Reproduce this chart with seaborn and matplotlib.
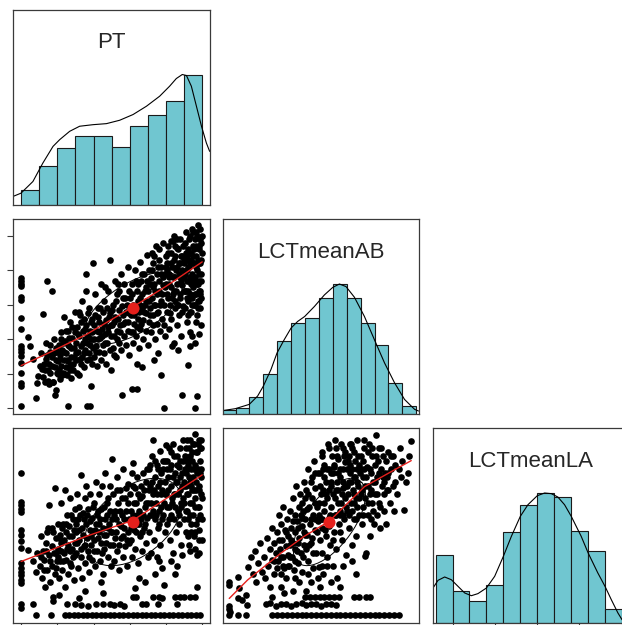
import numpy as np
import pandas as pd
import matplotlib
matplotlib.use("Agg")
import matplotlib.pyplot as plt
import seaborn as sns

sns.set_style("white")
plt.rcParams['font.family'] = ['Liberation Sans', 'DejaVu Sans']

# ---------------- data ----------------
var_names = ["PT", "LCTmeanAB", "LCTmeanLA"]

# histograms (bar heights scaled so that the tallest bar = 1, as in psych::pairs.panels)
pt_breaks = [0, 1, 2, 3, 4, 5, 6, 7, 8, 9, 10]
pt_heights = [0.111, 0.296, 0.434, 0.527, 0.524, 0.440, 0.604, 0.689, 0.800, 1.0]
ab_breaks = [0.4, 0.6, 0.8, 1.0, 1.2, 1.4, 1.6, 1.8, 2.0, 2.2, 2.4, 2.6, 2.8, 3.0, 3.2]
ab_heights = [0.028, 0.043, 0.130, 0.311, 0.559, 0.699, 0.737, 0.895, 1.0, 0.890, 0.699, 0.531, 0.240, 0.061]
la_breaks = [0.8, 1.0, 1.2, 1.4, 1.6, 1.8, 2.0, 2.2, 2.4, 2.6, 2.8, 3.0]
la_heights = [0.526, 0.249, 0.167, 0.292, 0.697, 0.908, 1.0, 0.967, 0.708, 0.551, 0.108]

# density curves (scaled to max 1)
pt_dens_x = [-0.45, -0.01, 0.65, 1.2, 1.76, 2.13, 2.68, 3.23, 3.97, 4.71, 5.44, 6.18, 6.92, 7.65, 8.2, 8.57, 8.9, 9.13, 9.4, 9.68, 9.96, 10.23, 10.41]
pt_dens_y = [0.062, 0.087, 0.177, 0.319, 0.447, 0.499, 0.563, 0.602, 0.614, 0.622, 0.648, 0.692, 0.756, 0.833, 0.910, 0.969, 1.0, 0.992, 0.91, 0.756, 0.602, 0.473, 0.409]
ab_dens_x = [0.414, 0.597, 0.798, 0.918, 1.0, 1.11, 1.197, 1.30, 1.399, 1.494, 1.595, 1.735, 1.879, 1.999, 2.095, 2.19, 2.311, 2.455, 2.599, 2.744, 2.888, 3.032, 3.176, 3.233]
ab_dens_y = [0.026, 0.041, 0.074, 0.138, 0.214, 0.342, 0.469, 0.571, 0.661, 0.712, 0.75, 0.827, 0.916, 0.974, 1.0, 0.980, 0.898, 0.75, 0.571, 0.393, 0.240, 0.112, 0.036, 0.023]
la_dens_x = [0.768, 0.827, 0.906, 0.985, 1.064, 1.143, 1.222, 1.30, 1.40, 1.498, 1.601, 1.696, 1.802, 1.892, 2.002, 2.089, 2.168, 2.246, 2.325, 2.404, 2.522, 2.605, 2.719, 2.804, 2.879, 2.957, 3.005, 3.09]
la_dens_y = [0.269, 0.328, 0.354, 0.333, 0.282, 0.231, 0.210, 0.226, 0.269, 0.359, 0.513, 0.667, 0.821, 0.910, 0.979, 1.0, 0.995, 0.969, 0.910, 0.821, 0.667, 0.538, 0.385, 0.282, 0.179, 0.077, 0.026, -0.02]

# scatter: PT (x) vs LCTmeanAB (y)
pts_pt_ab = [
    (0, 2.39), (0, 2.35), (0, 2.30), (0, 2.27), (0, 2.11), (0, 2.07), (0, 1.81), (0, 1.65), (0, 1.41), (0, 1.36),
    (0, 1.31), (0, 1.26), (0, 1.16), (0, 1.02), (0, 0.87), (0, 0.82), (0, 0.53),
    (0.38, 1.54), (0.5, 1.41), (0.65, 1.22), (0.8, 0.65), (0.9, 0.87), (0.95, 0.97),
    (1.17, 1.07), (1.3, 0.89), (1.55, 0.86), (1.77, 0.89), (1.85, 0.70),
    (1.05, 1.12), (1.12, 1.30), (1.18, 1.87), (1.22, 0.95), (1.3, 1.05), (1.35, 1.22), (1.4, 1.45), (1.45, 2.35),
    (1.5, 0.9), (1.55, 1.15), (1.6, 1.32), (1.62, 1.02), (1.7, 2.2), (1.72, 1.25), (1.78, 0.89), (1.8, 1.5),
    (1.88, 1.1), (1.95, 1.38), (1.92, 0.77),
    (1.25, 1.15), (1.42, 1.28), (1.58, 1.42), (1.68, 1.12), (1.82, 1.3), (1.9, 1.2), (1.48, 1.05), (1.98, 1.02),
    (2.02, 1.0), (2.05, 1.18), (2.08, 1.42), (2.1, 1.05), (2.12, 1.28), (2.15, 0.92), (2.2, 1.12), (2.22, 1.6),
    (2.28, 1.35), (2.3, 1.02), (2.35, 1.2), (2.38, 1.82), (2.42, 1.48), (2.45, 1.1), (2.5, 1.3), (2.55, 0.98),
    (2.58, 1.62), (2.6, 1.18), (2.65, 1.4), (2.7, 1.75), (2.72, 1.05), (2.78, 1.25), (2.8, 1.52), (2.85, 1.15),
    (2.9, 1.38), (2.95, 1.9), (2.98, 1.6), (2.77, 0.94), (2.59, 0.53),
    (2.04, 1.32), (2.18, 1.5), (2.25, 0.98), (2.32, 1.45), (2.4, 1.0), (2.48, 1.62), (2.52, 1.2), (2.62, 1.52),
    (2.68, 1.12), (2.75, 1.38), (2.82, 1.68), (2.88, 1.05), (2.93, 1.25), (2.16, 1.22), (2.36, 1.32), (2.56, 1.42),
    (3.02, 1.2), (3.05, 1.45), (3.08, 1.68), (3.1, 1.02), (3.15, 1.32), (3.18, 1.9), (3.2, 0.98), (3.22, 1.55),
    (3.28, 1.15), (3.3, 1.4), (3.35, 2.05), (3.38, 1.25), (3.4, 1.62), (3.45, 1.8), (3.48, 1.1), (3.5, 1.5),
    (3.55, 1.35), (3.58, 2.2), (3.6, 2.45), (3.6, 1.7), (3.64, 0.53), (3.65, 1.2), (3.7, 1.55), (3.72, 1.95),
    (3.75, 1.3), (3.79, 0.53), (3.8, 1.42), (3.85, 1.75), (3.88, 0.83), (3.9, 1.15), (3.92, 1.6), (3.96, 2.6),
    (3.98, 1.38),
    (3.04, 1.3), (3.12, 1.58), (3.25, 1.22), (3.32, 1.75), (3.42, 1.45), (3.52, 1.65), (3.62, 1.45), (3.68, 1.88),
    (3.78, 1.62), (3.82, 1.22), (3.94, 1.8), (3.25, 1.85), (3.45, 1.3), (3.88, 1.5),
    (4.02, 1.5), (4.05, 1.25), (4.08, 1.85), (4.1, 2.15), (4.15, 1.4), (4.18, 1.62), (4.2, 1.12), (4.25, 1.95),
    (4.28, 1.32), (4.3, 1.75), (4.35, 1.52), (4.4, 2.3), (4.42, 1.2), (4.45, 1.65), (4.5, 1.42), (4.52, 1.9),
    (4.58, 1.3), (4.6, 2.05), (4.62, 1.58), (4.68, 1.78), (4.7, 1.15), (4.75, 1.45), (4.8, 2.2), (4.82, 1.68),
    (4.88, 1.35), (4.9, 2.65), (4.92, 1.88), (4.96, 1.55), (4.98, 1.05),
    (4.04, 1.7), (4.12, 1.32), (4.22, 1.82), (4.32, 1.6), (4.38, 1.95), (4.48, 1.55), (4.55, 1.72), (4.65, 1.45),
    (4.72, 1.95), (4.78, 1.6), (4.85, 1.82), (4.95, 1.7), (4.25, 1.5), (4.62, 2.25),
    (5.02, 1.7), (5.05, 1.38), (5.1, 2.0), (5.12, 1.55), (5.18, 2.35), (5.2, 1.82), (5.25, 1.25), (5.3, 1.62),
    (5.32, 2.15), (5.38, 1.45), (5.4, 1.92), (5.45, 1.7), (5.5, 2.45), (5.52, 1.35), (5.55, 0.69), (5.6, 1.85),
    (5.62, 2.1), (5.68, 1.55), (5.7, 2.3), (5.75, 1.75), (5.8, 1.42), (5.85, 2.0), (5.88, 1.62), (5.92, 2.55),
    (5.95, 1.88), (5.98, 1.28),
    (5.04, 1.92), (5.14, 1.75), (5.22, 2.05), (5.28, 1.5), (5.35, 1.8), (5.42, 2.2), (5.48, 1.6), (5.58, 1.98),
    (5.65, 1.72), (5.72, 2.1), (5.78, 1.9), (5.9, 1.75), (5.96, 2.2), (5.35, 2.3), (5.15, 1.28),
    (6.02, 2.1), (6.05, 1.6), (6.08, 1.85), (6.1, 0.78), (6.12, 2.3), (6.15, 1.45), (6.2, 2.0), (6.22, 1.72),
    (6.28, 2.5), (6.3, 1.9), (6.35, 1.55), (6.38, 2.2), (6.4, 0.78), (6.42, 1.15), (6.45, 1.8), (6.48, 2.05),
    (6.5, 1.38), (6.55, 2.62), (6.58, 1.65), (6.6, 2.35), (6.65, 1.95), (6.68, 2.15), (6.72, 1.5), (6.75, 1.78),
    (6.8, 2.45), (6.82, 2.0), (6.88, 1.62), (6.9, 2.25), (6.92, 1.88), (6.95, 2.72), (6.98, 1.42), (6.7, 1.1),
    (6.04, 1.95), (6.14, 2.15), (6.25, 1.85), (6.32, 2.35), (6.4, 1.68), (6.46, 2.3), (6.52, 1.9), (6.58, 2.1),
    (6.64, 1.72), (6.7, 2.45), (6.78, 1.9), (6.85, 2.2), (6.92, 2.05), (6.97, 2.35), (6.18, 1.6), (6.55, 2.0),
    (7.02, 2.2), (7.05, 1.75), (7.08, 2.5), (7.1, 1.95), (7.15, 2.38), (7.18, 1.6), (7.2, 2.75), (7.25, 2.1),
    (7.28, 1.85), (7.3, 2.6), (7.35, 2.3), (7.38, 1.5), (7.4, 2.0), (7.45, 2.85), (7.48, 1.72), (7.5, 2.45),
    (7.52, 2.15), (7.58, 1.9), (7.6, 2.65), (7.62, 2.35), (7.68, 1.62), (7.7, 0.98), (7.72, 2.05), (7.75, 2.55),
    (7.8, 1.8), (7.82, 2.28), (7.85, 2.9), (7.9, 0.5), (7.9, 2.0), (7.92, 2.45), (7.95, 1.55), (7.98, 2.7),
    (7.55, 1.3), (7.35, 1.2),
    (7.04, 2.05), (7.1, 2.3), (7.14, 1.85), (7.2, 2.5), (7.26, 2.25), (7.32, 2.0), (7.36, 2.7), (7.42, 2.2),
    (7.5, 1.88), (7.55, 2.55), (7.62, 2.2), (7.66, 2.0), (7.7, 2.45), (7.76, 2.15), (7.84, 2.4), (7.88, 1.7),
    (7.94, 2.25), (7.98, 2.55), (7.3, 1.7), (7.6, 2.8),
    (8.02, 2.3), (8.05, 1.9), (8.08, 2.6), (8.1, 2.85), (8.12, 2.1), (8.15, 1.65), (8.18, 2.45), (8.2, 2.0),
    (8.25, 2.75), (8.28, 2.25), (8.3, 1.8), (8.32, 2.55), (8.38, 2.92), (8.4, 2.15), (8.42, 1.45), (8.45, 2.4),
    (8.48, 1.95), (8.5, 2.7), (8.52, 2.05), (8.55, 2.5), (8.58, 1.7), (8.6, 2.82), (8.62, 2.3), (8.68, 2.0),
    (8.7, 2.6), (8.72, 1.85), (8.75, 2.95), (8.78, 2.4), (8.8, 2.15), (8.82, 1.55), (8.85, 2.7), (8.88, 2.28),
    (8.9, 0.69), (8.9, 2.5), (8.92, 1.98), (8.95, 2.85), (8.98, 2.2), (8.35, 1.4), (8.65, 1.35), (8.45, 3.0),
    (8.04, 2.5), (8.08, 2.15), (8.12, 2.75), (8.18, 2.3), (8.22, 1.88), (8.26, 2.6), (8.32, 2.1), (8.36, 2.4),
    (8.42, 2.65), (8.46, 2.2), (8.52, 2.85), (8.56, 2.2), (8.6, 2.55), (8.64, 2.0), (8.68, 2.8), (8.72, 2.45),
    (8.76, 2.1), (8.8, 2.6), (8.84, 2.35), (8.86, 1.9), (8.9, 2.7), (8.94, 2.4), (8.98, 2.65), (8.28, 2.92),
    (8.58, 2.95), (8.14, 2.4),
    (9.02, 2.4), (9.05, 2.9), (9.05, 1.95), (9.08, 2.65), (9.1, 2.2), (9.12, 3.05), (9.15, 1.75), (9.18, 2.5),
    (9.2, 1.13), (9.2, 2.8), (9.22, 2.05), (9.25, 2.35), (9.28, 2.95), (9.3, 1.6), (9.32, 2.6), (9.35, 2.15),
    (9.38, 2.75), (9.4, 1.9), (9.42, 2.45), (9.45, 3.1), (9.48, 2.25), (9.5, 2.85), (9.52, 2.0), (9.55, 2.6),
    (9.58, 1.45), (9.6, 0.5), (9.6, 2.4), (9.62, 2.95), (9.65, 2.15), (9.68, 2.7), (9.7, 0.68), (9.7, 1.85),
    (9.72, 2.5), (9.75, 3.15), (9.78, 2.3), (9.8, 1.57), (9.8, 2.8), (9.82, 2.05), (9.85, 2.6), (9.88, 2.95),
    (9.9, 2.2), (9.92, 1.7), (9.95, 2.45), (9.98, 3.0), (9.98, 2.75), (9.88, 1.95), (9.45, 1.55), (9.35, 1.4),
    (9.65, 3.05), (9.15, 2.7), (9.55, 2.3), (9.25, 2.55), (9.75, 2.05), (9.85, 2.35), (9.95, 2.65),
    (9.02, 2.6), (9.04, 2.2), (9.06, 2.45), (9.1, 2.75), (9.14, 2.35), (9.16, 2.1), (9.2, 2.55), (9.24, 2.2),
    (9.26, 2.75), (9.3, 2.4), (9.34, 1.9), (9.36, 2.65), (9.4, 2.3), (9.44, 2.6), (9.46, 2.0), (9.5, 2.7),
    (9.52, 2.35), (9.56, 2.8), (9.6, 2.15), (9.64, 2.55), (9.66, 2.85), (9.7, 2.3), (9.74, 2.65), (9.76, 1.95),
    (9.8, 2.45), (9.84, 2.85), (9.86, 2.15), (9.9, 2.6), (9.92, 2.35), (9.96, 2.9), (9.96, 2.1), (9.9, 3.1),
    (9.7, 3.0), (9.5, 3.05), (9.3, 3.0), (9.58, 2.0), (9.8, 2.2), (9.42, 2.1), (9.64, 1.75), (9.2, 1.85),
]

# scatter: PT (x) vs LCTmeanLA (y)
pts_pt_la = [
    (0, 2.55), (0, 2.21), (0, 2.17), (0, 2.13), (0, 2.09), (0, 1.88), (0, 1.82), (0, 1.74), (0, 1.66), (0, 1.48),
    (0, 1.42), (0, 1.38), (0, 1.34), (0, 1.28), (0, 1.24), (0, 0.99), (0, 0.95),
    (0.4, 1.64), (0.65, 1.5), (0.8, 1.38), (0.9, 1.6), (0.65, 0.99), (0.8, 0.86), (1.65, 0.86),
    (1.05, 1.45), (1.1, 1.8), (1.15, 1.3), (1.2, 1.62), (1.28, 1.52), (1.32, 1.2), (1.38, 1.72), (1.45, 1.4),
    (1.5, 1.9), (1.55, 2.17), (1.55, 1.58), (1.62, 1.25), (1.68, 1.68), (1.72, 1.45), (1.78, 1.85), (1.85, 2.37),
    (1.85, 1.35), (1.9, 1.6), (1.95, 1.78), (1.75, 1.08), (1.98, 1.5),
    (1.1, 1.55), (1.25, 1.4), (1.35, 1.62), (1.42, 1.85), (1.6, 1.5), (1.7, 1.9), (1.8, 1.6), (1.92, 1.42),
    (2.02, 1.95), (2.05, 1.65), (2.08, 1.3), (2.12, 1.82), (2.15, 1.5), (2.2, 2.2), (2.22, 1.72), (2.28, 1.4),
    (2.3, 1.95), (2.35, 1.6), (2.4, 2.35), (2.42, 1.2), (2.45, 1.85), (2.5, 1.52), (2.55, 2.05), (2.58, 1.7),
    (2.6, 1.35), (2.65, 1.92), (2.7, 1.62), (2.72, 2.25), (2.78, 1.45), (2.8, 1.8), (2.85, 2.0), (2.88, 1.55),
    (2.92, 1.28), (2.95, 1.72), (2.98, 2.12),
    (2.04, 1.55), (2.1, 1.78), (2.18, 1.62), (2.25, 1.9), (2.32, 1.5), (2.38, 1.75), (2.48, 1.95), (2.52, 1.65),
    (2.62, 1.8), (2.68, 1.48), (2.75, 2.05), (2.82, 1.65), (2.9, 1.88), (2.96, 1.58),
    (3.02, 1.85), (3.05, 1.6), (3.08, 2.3), (3.12, 1.42), (3.15, 2.0), (3.2, 1.75), (3.22, 2.15), (3.28, 1.55),
    (3.3, 2.53), (3.35, 1.9), (3.38, 1.3), (3.42, 2.08), (3.45, 1.68), (3.5, 2.25), (3.52, 1.48), (3.58, 1.95),
    (3.6, 2.4), (3.62, 1.78), (3.68, 1.62), (3.7, 2.12), (3.75, 1.38), (3.78, 1.88), (3.82, 2.3), (3.85, 1.7),
    (3.9, 2.02), (3.92, 1.52), (3.98, 1.85), (3.5, 1.15),
    (3.04, 1.95), (3.1, 1.72), (3.18, 1.88), (3.25, 2.05), (3.32, 1.65), (3.4, 1.82), (3.48, 2.0), (3.55, 1.7),
    (3.65, 2.05), (3.72, 1.55), (3.8, 1.98), (3.88, 1.8), (3.95, 2.15),
    (4.02, 2.2), (4.05, 1.75), (4.08, 1.45), (4.12, 2.45), (4.15, 1.95), (4.2, 1.62), (4.22, 2.1), (4.28, 1.85),
    (4.3, 2.3), (4.35, 1.5), (4.38, 2.0), (4.42, 1.72), (4.48, 2.4), (4.5, 1.9), (4.52, 1.35), (4.58, 2.15),
    (4.6, 1.65), (4.65, 2.55), (4.7, 1.82), (4.72, 2.05), (4.78, 1.55), (4.82, 2.25), (4.85, 1.95), (4.9, 1.7),
    (4.92, 2.4), (4.98, 1.45), (4.4, 1.25),
    (4.04, 1.62), (4.1, 1.88), (4.18, 2.05), (4.25, 1.78), (4.32, 1.95), (4.4, 2.12), (4.45, 1.6), (4.55, 1.82),
    (4.62, 2.0), (4.68, 1.72), (4.75, 2.2), (4.8, 1.9), (4.88, 2.1), (4.95, 1.85),
    (5.0, 2.72), (5.02, 2.0), (5.08, 1.7), (5.1, 2.3), (5.15, 1.5), (5.2, 2.1), (5.22, 1.85), (5.28, 2.5),
    (5.3, 1.62), (5.35, 2.2), (5.4, 1.95), (5.42, 1.4), (5.48, 2.35), (5.5, 1.78), (5.55, 2.05), (5.6, 1.55),
    (5.62, 2.6), (5.68, 1.9), (5.72, 2.25), (5.75, 1.68), (5.8, 2.1), (5.85, 1.45), (5.88, 2.42), (5.92, 1.85),
    (5.98, 2.0),
    (5.04, 1.85), (5.12, 2.05), (5.18, 1.78), (5.25, 2.0), (5.32, 2.35), (5.38, 1.7), (5.45, 2.1), (5.52, 1.92),
    (5.58, 2.25), (5.65, 1.8), (5.7, 2.0), (5.78, 2.38), (5.82, 1.75), (5.9, 2.2), (5.96, 1.72),
    (6.02, 2.3), (6.05, 1.75), (6.1, 2.55), (6.12, 1.55), (6.18, 2.05), (6.2, 2.67), (6.22, 1.88), (6.28, 2.38),
    (6.3, 1.65), (6.35, 2.2), (6.4, 1.95), (6.42, 2.5), (6.48, 1.48), (6.5, 2.1), (6.55, 1.8), (6.6, 2.4),
    (6.62, 2.0), (6.68, 1.62), (6.7, 2.28), (6.75, 2.55), (6.78, 1.9), (6.82, 2.15), (6.88, 1.72), (6.9, 2.45),
    (6.95, 2.02), (6.98, 1.55), (6.5, 1.3), (6.85, 1.25), (6.3, 1.18),
    (6.04, 2.1), (6.08, 1.9), (6.15, 2.4), (6.25, 2.2), (6.32, 1.85), (6.38, 2.05), (6.45, 2.3), (6.52, 1.95),
    (6.58, 2.25), (6.65, 1.85), (6.72, 2.05), (6.8, 2.35), (6.86, 1.95), (6.92, 2.2), (6.97, 2.6),
    (7.02, 2.2), (7.05, 2.6), (7.08, 1.85), (7.12, 2.4), (7.15, 1.6), (7.2, 2.05), (7.22, 2.75), (7.28, 2.3),
    (7.3, 2.95), (7.32, 1.75), (7.38, 2.5), (7.4, 2.0), (7.45, 2.2), (7.48, 1.55), (7.5, 2.65), (7.55, 1.9),
    (7.58, 2.4), (7.6, 2.1), (7.65, 2.82), (7.68, 1.7), (7.72, 2.3), (7.75, 2.55), (7.8, 1.42), (7.8, 2.0),
    (7.85, 2.7), (7.88, 2.2), (7.9, 1.22), (7.92, 1.85), (7.95, 2.45), (7.98, 2.88), (7.4, 1.35), (7.6, 1.5),
    (7.04, 2.35), (7.1, 2.05), (7.14, 2.65), (7.18, 2.2), (7.25, 2.45), (7.3, 2.1), (7.35, 2.35), (7.42, 2.7),
    (7.46, 2.05), (7.52, 2.3), (7.58, 2.6), (7.62, 1.95), (7.66, 2.45), (7.7, 2.15), (7.78, 2.35), (7.82, 2.6),
    (7.86, 2.05), (7.92, 2.3), (7.96, 2.7),
    (8.02, 2.3), (8.05, 2.7), (8.08, 1.95), (8.1, 2.5), (8.15, 2.15), (8.18, 2.85), (8.2, 1.75), (8.25, 2.4),
    (8.28, 2.05), (8.3, 2.65), (8.35, 2.25), (8.38, 1.6), (8.4, 2.9), (8.45, 2.0), (8.48, 2.55), (8.5, 2.3),
    (8.55, 1.85), (8.58, 2.75), (8.6, 1.45), (8.62, 2.45), (8.65, 2.1), (8.7, 2.62), (8.72, 1.95), (8.75, 2.85),
    (8.8, 2.35), (8.82, 2.15), (8.85, 1.7), (8.88, 2.55), (8.9, 1.58), (8.92, 2.95), (8.95, 2.25), (8.98, 2.0),
    (8.3, 1.5), (8.5, 1.35),
    (8.04, 2.15), (8.08, 2.6), (8.12, 2.35), (8.18, 2.0), (8.22, 2.6), (8.26, 2.8), (8.32, 2.2), (8.36, 2.5),
    (8.42, 2.3), (8.46, 2.75), (8.52, 2.15), (8.56, 2.45), (8.6, 2.65), (8.66, 2.3), (8.7, 2.05), (8.76, 2.5),
    (8.8, 2.7), (8.84, 2.2), (8.9, 2.4), (8.94, 2.7), (8.98, 2.45),
    (9.02, 2.4), (9.05, 2.75), (9.08, 2.1), (9.1, 2.55), (9.12, 1.85), (9.15, 2.95), (9.18, 2.3), (9.2, 2.0),
    (9.22, 2.65), (9.25, 2.85), (9.28, 1.7), (9.3, 2.45), (9.32, 2.2), (9.35, 2.95), (9.38, 1.95), (9.4, 2.6),
    (9.42, 2.35), (9.45, 2.8), (9.48, 2.05), (9.5, 2.5), (9.52, 1.8), (9.55, 2.9), (9.58, 2.25), (9.6, 3.02),
    (9.62, 2.65), (9.65, 1.95), (9.68, 2.45), (9.7, 1.58), (9.7, 1.2), (9.72, 2.8), (9.75, 2.15), (9.78, 2.6),
    (9.8, 1.88), (9.82, 2.95), (9.85, 2.35), (9.88, 2.7), (9.9, 2.05), (9.92, 2.5), (9.95, 2.85), (9.98, 2.25),
    (9.98, 1.75), (9.6, 1.65), (9.85, 1.6), (9.3, 1.62), (9.15, 2.7),
    (9.02, 2.2), (9.04, 2.6), (9.08, 2.85), (9.12, 2.4), (9.14, 2.1), (9.18, 2.6), (9.22, 2.3), (9.26, 2.5),
    (9.3, 2.75), (9.34, 2.05), (9.38, 2.4), (9.42, 2.7), (9.46, 2.2), (9.5, 2.9), (9.52, 2.35), (9.56, 2.6),
    (9.6, 2.15), (9.64, 2.8), (9.66, 2.35), (9.7, 2.55), (9.74, 2.0), (9.76, 2.9), (9.8, 2.4), (9.84, 2.15),
    (9.86, 2.55), (9.9, 2.85), (9.92, 2.3), (9.96, 2.6), (9.98, 2.0), (9.94, 2.95), (9.4, 1.85), (9.6, 1.85),
    (9.8, 1.75), (9.2, 1.8),
    (2.55, 0.99), (3.0, 1.0), (3.3, 0.98), (3.7, 0.97), (4.15, 0.99), (4.5, 1.0), (4.9, 0.99), (5.15, 0.98),
    (5.45, 0.99), (5.7, 0.97), (6.7, 0.99), (6.9, 1.0), (7.55, 0.99), (8.6, 0.99), (1.75, 1.03), (2.1, 1.1),
    (6.2, 1.08), (6.35, 1.08), (7.3, 1.08), (7.6, 1.08), (7.8, 1.07), (8.5, 1.08), (8.75, 1.08), (9.0, 1.08),
    (9.3, 1.08), (9.6, 1.08), (3.2, 1.07), (4.5, 1.13),
    (2.4, 0.86), (2.65, 0.86), (2.9, 0.86), (3.15, 0.86), (3.4, 0.86), (3.65, 0.86), (3.9, 0.86), (4.15, 0.86),
    (4.4, 0.86), (4.65, 0.86), (4.9, 0.86), (5.15, 0.86), (5.4, 0.86), (5.65, 0.86), (5.9, 0.86), (6.15, 0.86),
    (6.4, 0.86), (6.65, 0.86), (6.9, 0.86), (7.15, 0.86), (7.4, 0.86), (7.65, 0.86), (7.9, 0.86), (8.15, 0.86),
    (8.4, 0.86), (8.65, 0.86), (8.9, 0.86), (9.15, 0.86), (9.4, 0.86), (9.65, 0.86), (9.9, 0.86),
]

# scatter: LCTmeanAB (x) vs LCTmeanLA (y)
pts_ab_la = [
    (0.51, 1.26), (0.51, 1.22), (0.51, 0.94), (0.52, 0.9),
    (0.63, 1.32), (0.65, 1.18), (0.7, 1.04), (0.78, 1.44), (0.75, 1.1),
    (0.82, 1.55), (0.85, 1.35), (0.88, 1.62), (0.9, 1.25), (0.92, 1.48), (0.95, 1.72), (0.98, 1.38),
    (1.01, 1.55), (1.03, 1.3), (1.05, 1.78), (1.07, 1.45), (1.09, 1.65), (1.1, 1.2), (1.12, 1.9), (1.13, 1.52),
    (1.15, 1.35), (1.16, 1.72), (1.18, 1.6), (1.19, 1.42), (1.12, 1.08),
    (1.2, 1.85), (1.21, 1.5), (1.22, 2.05), (1.24, 1.65), (1.25, 1.35), (1.26, 1.95), (1.27, 1.75), (1.28, 1.55),
    (1.29, 2.15), (1.3, 1.42), (1.31, 1.88), (1.32, 1.68), (1.33, 1.3), (1.34, 2.0), (1.35, 1.58), (1.36, 1.8),
    (1.37, 1.45), (1.38, 2.1), (1.39, 1.7), (1.3, 1.12), (1.25, 1.2),
    (1.4, 1.9), (1.41, 1.55), (1.42, 2.25), (1.43, 1.72), (1.44, 1.4), (1.45, 2.05), (1.46, 1.85), (1.47, 2.4),
    (1.48, 1.62), (1.49, 1.98), (1.5, 1.48), (1.51, 2.15), (1.52, 1.78), (1.53, 2.3), (1.54, 1.6), (1.55, 1.92),
    (1.56, 1.38), (1.57, 2.1), (1.58, 1.7), (1.59, 2.45), (1.55, 2.02), (1.45, 1.65), (1.52, 1.25), (1.58, 1.85),
    (1.42, 1.15),
    (1.6, 2.0), (1.61, 1.65), (1.62, 2.35), (1.63, 1.82), (1.64, 2.6), (1.65, 1.5), (1.66, 2.15), (1.67, 1.95),
    (1.68, 2.45), (1.69, 1.72), (1.7, 2.25), (1.71, 1.42), (1.72, 2.05), (1.73, 2.7), (1.74, 1.88), (1.75, 2.38),
    (1.76, 1.6), (1.77, 2.15), (1.78, 1.98), (1.79, 2.55), (1.7, 1.78), (1.65, 2.3), (1.75, 2.0), (1.8, 1.44),
    (1.68, 1.25), (1.62, 1.15), (1.78, 1.3),
    (1.8, 2.2), (1.81, 1.75), (1.82, 2.55), (1.83, 2.0), (1.84, 2.8), (1.85, 1.6), (1.86, 2.35), (1.87, 2.1),
    (1.88, 2.65), (1.89, 1.88), (1.9, 2.45), (1.91, 1.55), (1.92, 2.25), (1.93, 2.9), (1.94, 2.02), (1.95, 2.6),
    (1.96, 1.7), (1.97, 2.4), (1.98, 2.15), (1.99, 2.75), (1.85, 2.0), (1.9, 2.3), (1.95, 1.92), (1.88, 2.5),
    (1.83, 2.3), (1.97, 2.55), (1.92, 1.45), (1.86, 1.35), (1.98, 1.25), (1.82, 1.2),
    (2.0, 2.3), (2.01, 1.85), (2.02, 2.62), (2.03, 2.05), (2.04, 2.85), (2.05, 1.65), (2.06, 2.45), (2.07, 2.2),
    (2.08, 2.72), (2.09, 1.95), (2.1, 2.5), (2.11, 2.1), (2.12, 2.9), (2.13, 1.75), (2.14, 2.38), (2.15, 2.6),
    (2.16, 2.0), (2.17, 2.8), (2.18, 2.25), (2.19, 1.58), (2.05, 2.35), (2.1, 2.05), (2.15, 2.45), (2.08, 2.55),
    (2.12, 2.2), (2.18, 2.68), (2.03, 2.95), (2.14, 1.45), (2.06, 1.3), (2.2, 2.4), (2.1, 1.2),
    (2.21, 2.1), (2.22, 2.7), (2.23, 1.9), (2.24, 2.45), (2.25, 2.9), (2.26, 2.2), (2.27, 1.7), (2.28, 2.6),
    (2.29, 2.35), (2.3, 2.8), (2.31, 2.0), (2.32, 2.5), (2.33, 1.8), (2.34, 2.25), (2.35, 2.95), (2.36, 2.4),
    (2.37, 2.65), (2.38, 2.05), (2.39, 2.55), (2.3, 2.3), (2.25, 2.55), (2.35, 2.15), (2.28, 1.5), (2.33, 1.35),
    (2.26, 2.9),
    (2.4, 2.3), (2.41, 2.75), (2.42, 1.95), (2.43, 2.5), (2.44, 2.15), (2.45, 2.85), (2.46, 1.56), (2.47, 2.4),
    (2.48, 1.6), (2.49, 2.62), (2.5, 2.05), (2.52, 2.9), (2.53, 2.3), (2.54, 1.8), (2.55, 2.55), (2.56, 2.2),
    (2.57, 2.75), (2.58, 2.45), (2.59, 1.95), (2.45, 2.6), (2.5, 2.4), (2.55, 2.0),
    (2.6, 2.65), (2.61, 2.3), (2.62, 3.0), (2.63, 2.05), (2.64, 2.5), (2.66, 2.85), (2.67, 2.2), (2.68, 1.9),
    (2.7, 2.6), (2.71, 2.4), (2.72, 2.75), (2.74, 2.1), (2.75, 2.55), (2.76, 1.95), (2.78, 2.35), (2.79, 2.8),
    (2.65, 2.7), (2.73, 2.45),
    (2.8, 2.55), (2.82, 2.2), (2.84, 2.75), (2.86, 2.4), (2.88, 2.1), (2.9, 2.65), (2.93, 2.3), (2.96, 2.85),
    (2.98, 2.5),
    (3.0, 2.7), (3.03, 2.11), (3.05, 2.45), (3.1, 2.75), (3.13, 2.93), (3.08, 2.55),
    (1.22, 1.75), (1.28, 1.45), (1.33, 1.85), (1.38, 1.55), (1.42, 1.98), (1.46, 1.5), (1.5, 1.72), (1.54, 2.05),
    (1.57, 1.55), (1.6, 1.82), (1.63, 2.12), (1.66, 1.7), (1.69, 2.0), (1.72, 1.6), (1.74, 2.2), (1.77, 1.85),
    (1.8, 2.05), (1.82, 2.4), (1.84, 1.9), (1.86, 2.6), (1.88, 2.2), (1.9, 1.8), (1.92, 2.6), (1.94, 2.35),
    (1.96, 2.05), (1.98, 2.45), (2.0, 1.75), (2.01, 2.65), (2.03, 2.25), (2.05, 2.05), (2.06, 2.75), (2.08, 2.35),
    (2.1, 1.85), (2.11, 2.6), (2.13, 2.3), (2.14, 2.05), (2.16, 2.75), (2.17, 2.4), (2.19, 2.15), (2.2, 2.6),
    (2.22, 2.3), (2.23, 2.05), (2.24, 2.75), (2.26, 2.45), (2.27, 2.1), (2.28, 2.85), (2.3, 2.5), (2.31, 2.2),
    (2.32, 2.7), (2.34, 2.0), (2.35, 2.45), (2.36, 2.75), (2.38, 2.25), (2.4, 2.6), (2.42, 2.35), (2.43, 2.05),
    (2.44, 2.7), (2.46, 2.25), (2.48, 2.5), (2.5, 2.8), (2.51, 2.2), (2.53, 2.6), (2.55, 2.35), (2.56, 2.85),
    (2.58, 2.1), (2.6, 2.45), (2.62, 2.75), (2.64, 2.3), (2.66, 2.55), (2.68, 2.15), (2.7, 2.85), (2.72, 2.5),
    (2.74, 2.3), (2.76, 2.7), (2.78, 2.5), (2.8, 2.35), (2.83, 2.6), (2.86, 2.75), (2.9, 2.45), (2.95, 2.6),
    (1.7, 2.5), (1.6, 2.25), (1.75, 2.55), (1.55, 2.2), (1.85, 2.75), (1.95, 2.85), (2.0, 2.55), (2.15, 2.85),
    (2.25, 2.65), (2.45, 2.95), (2.35, 2.6), (1.5, 1.9), (1.4, 1.75), (1.35, 1.45), (1.25, 1.55), (1.15, 1.5),
    (1.45, 1.3), (1.65, 1.35), (1.85, 1.45), (2.0, 1.45),
    (1.13, 0.86), (1.2, 0.86), (1.27, 0.86), (1.34, 0.86), (1.41, 0.86), (1.48, 0.86), (1.55, 0.86), (1.62, 0.86),
    (1.69, 0.86), (1.76, 0.86), (1.83, 0.86), (1.9, 0.86), (1.97, 0.86), (2.04, 0.86), (2.11, 0.86), (2.18, 0.86),
    (2.25, 0.86), (2.32, 0.86), (2.39, 0.86), (2.46, 0.86), (2.53, 0.86), (2.6, 0.86), (2.67, 0.86), (2.74, 0.86),
    (2.81, 0.86), (2.88, 0.86), (2.95, 0.86),
    (1.04, 0.99), (1.1, 1.01), (1.18, 0.97), (1.25, 0.99), (1.33, 1.0), (1.4, 0.97), (1.47, 0.99), (1.55, 1.01),
    (1.62, 0.98), (1.69, 0.99), (1.76, 1.0), (1.83, 0.97), (1.9, 0.99), (1.97, 1.0), (2.05, 0.98),
    (1.6, 1.08), (1.67, 1.08), (1.74, 1.08), (1.81, 1.08), (1.88, 1.08), (1.95, 1.08), (2.02, 1.08), (2.09, 1.08),
    (2.3, 1.08), (2.37, 1.08), (2.48, 1.08), (2.54, 1.08),
    (0.51, 0.97), (0.51, 0.86), (0.63, 0.86), (0.75, 0.86), (0.63, 1.07), (0.77, 0.98),
]

# lowess smooths
lo_pt_ab_x = [0.0, 1.57, 3.6, 6.18, 8.02, 10.0]
lo_pt_ab_y = [1.12, 1.31, 1.57, 1.97, 2.27, 2.62]
lo_pt_la_x = [0.0, 3.6, 6.18, 8.02, 10.0]
lo_pt_la_y = [1.50, 1.80, 1.99, 2.25, 2.53]
lo_ab_la_x = [0.51, 0.774, 1.255, 1.59, 1.95, 2.455, 2.8, 3.128]
lo_ab_la_y = [1.06, 1.28, 1.60, 1.80, 1.98, 2.39, 2.55, 2.70]

# means, sds and correlations (for mean dot and correlation ellipse)
means = {"PT": 6.2, "LCTmeanAB": 1.95, "LCTmeanLA": 1.97}
sds = {"PT": 2.7, "LCTmeanAB": 0.52, "LCTmeanLA": 0.52}
corrs = {("PT", "LCTmeanAB"): 0.62, ("PT", "LCTmeanLA"): 0.45, ("LCTmeanAB", "LCTmeanLA"): 0.62}

lims = {"PT": (-0.45, 10.43), "LCTmeanAB": (0.42, 3.24), "LCTmeanLA": (0.768, 3.088)}
ticks = {"PT": [0, 2, 4, 6, 8, 10], "LCTmeanAB": [0.5, 1.0, 1.5, 2.0, 2.5, 3.0],
         "LCTmeanLA": [1.0, 1.5, 2.0, 2.5, 3.0]}

# ---------------- drawing ----------------
W, H = 622, 625
fig = plt.figure(figsize=(W / 100, H / 100), dpi=100)
fig.patch.set_facecolor("white")

def add_ax(left, top, right, bottom):
    return fig.add_axes([left / W, (H - bottom) / H, (right - left) / W, (bottom - top) / H])

hist_col = "#70C6D0"
red = "#E5201C"

def style_frame(ax):
    for sp in ax.spines.values():
        sp.set_color("#3a3a3a")
        sp.set_linewidth(0.9)
    ax.set_xlabel("")
    ax.set_ylabel("")
    ax.tick_params(left=False, bottom=False, labelleft=False, labelbottom=False)

def diag_panel(ax, name, breaks, heights, dx, dy):
    centers = [(breaks[i] + breaks[i + 1]) / 2 for i in range(len(heights))]
    df = pd.DataFrame({"x": centers, "w": heights})
    sns.histplot(data=df, x="x", weights="w", bins=breaks, ax=ax, color=hist_col, alpha=1,
                 edgecolor="#1a1a1a", linewidth=0.8, stat="count")
    sns.lineplot(x=dx, y=dy, ax=ax, color="black", linewidth=0.8, sort=False, estimator=None)
    ax.set_xlim(*lims[name])
    ax.set_ylim(0, 1.5)
    ax.text(0.5, 0.83, name, transform=ax.transAxes, ha="center", va="center", fontsize=16)
    style_frame(ax)

def ellipse_pts(mx, my, sx, sy, r, n=51):
    ang = np.arange(n + 1) * 2 * np.pi / n
    th = np.sign(r) / np.sqrt(2)
    shape = np.diag([np.sqrt(1 + r), np.sqrt(1 - r)]) @ np.array([[th, th], [-th, th]])
    e = np.column_stack([np.cos(ang), np.sin(ang)]) @ shape
    return e[:, 0] * sx + mx, e[:, 1] * sy + my

def scatter_panel(ax, xname, yname, pts, lx, ly):
    df = pd.DataFrame(pts, columns=[xname, yname])
    sns.scatterplot(data=df, x=xname, y=yname, ax=ax, color="black", s=23, linewidth=0, legend=False)
    ex, ey = ellipse_pts(means[xname], means[yname], sds[xname], sds[yname], corrs[(xname, yname)])
    sns.lineplot(x=ex, y=ey, ax=ax, color="black", linewidth=0.7, sort=False, estimator=None)
    sns.lineplot(x=lx, y=ly, ax=ax, color=red, linewidth=1.0, sort=False, estimator=None)
    sns.scatterplot(x=[means[xname]], y=[means[yname]], ax=ax, color=red, s=75, linewidth=0,
                    legend=False, zorder=5)
    ax.set_xlim(*lims[xname])
    ax.set_ylim(*lims[yname])
    style_frame(ax)

axA = add_ax(13, 9.5, 210, 204.5)
diag_panel(axA, "PT", pt_breaks, pt_heights, pt_dens_x, pt_dens_y)

axB = add_ax(13, 219, 210, 414)
scatter_panel(axB, "PT", "LCTmeanAB", pts_pt_ab, lo_pt_ab_x, lo_pt_ab_y)
axB.set_yticks(ticks["LCTmeanAB"])
axB.tick_params(left=True, direction="out", length=4.5, width=0.8, color="#3a3a3a", labelleft=False)

axC = add_ax(223, 219, 419, 414)
diag_panel(axC, "LCTmeanAB", ab_breaks, ab_heights, ab_dens_x, ab_dens_y)

axD = add_ax(13, 428, 210, 623)
scatter_panel(axD, "PT", "LCTmeanLA", pts_pt_la, lo_pt_la_x, lo_pt_la_y)
axD.set_xticks(ticks["PT"])
axD.tick_params(bottom=True, direction="out", length=4.5, width=0.8, color="#3a3a3a", labelbottom=False)

axE = add_ax(223, 428, 419, 623)
scatter_panel(axE, "LCTmeanAB", "LCTmeanLA", pts_ab_la, lo_ab_la_x, lo_ab_la_y)

axF = add_ax(433, 428, 629, 623)
diag_panel(axF, "LCTmeanLA", la_breaks, la_heights, la_dens_x, la_dens_y)
axF.set_xticks(ticks["LCTmeanLA"])
axF.tick_params(bottom=True, direction="out", length=4.5, width=0.8, color="#3a3a3a", labelbottom=False)

fig.savefig("out.png", dpi=100, facecolor="white")
